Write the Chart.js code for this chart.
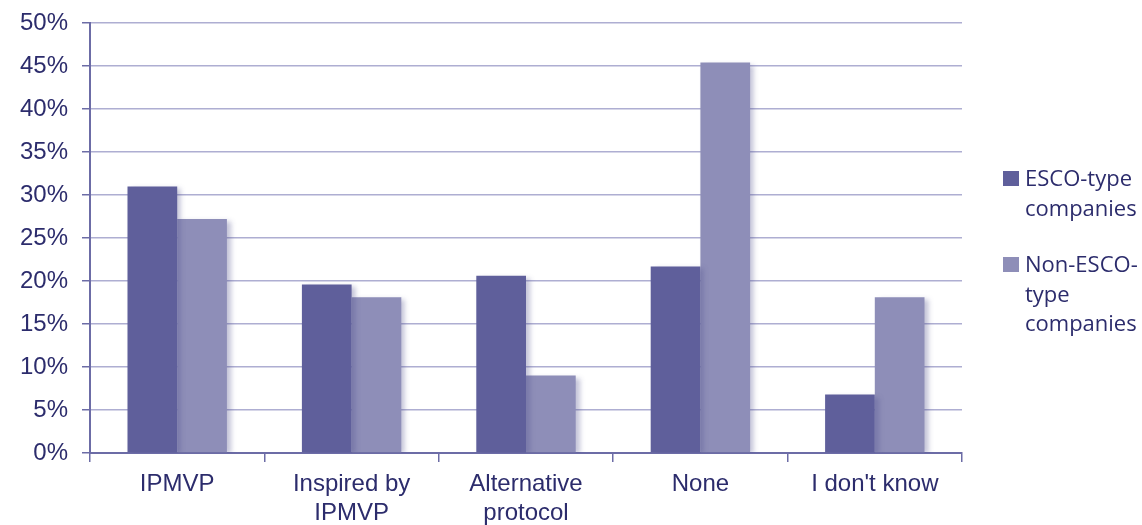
<!DOCTYPE html>
<html>
<head>
<meta charset="utf-8">
<script src="https://cdn.jsdelivr.net/npm/chart.js@4"></script>
<style>
html,body{margin:0;padding:0;background:#fff;}
#wrap{position:relative;width:1142px;height:525px;}
</style>
</head>
<body>
<div id="wrap"><canvas id="c" width="1142" height="525"></canvas></div>
<script>
const categories = ['IPMVP', ['Inspired by', 'IPMVP'], ['Alternative', 'protocol'], 'None', "I don't know"];
const escoLabel = ['ESCO-type', 'companies'];
const nonEscoLabel = ['Non-ESCO-', 'type', 'companies'];
const escoValues = [31.0, 19.6, 20.6, 21.7, 6.8];
const nonEscoValues = [27.2, 18.1, 9.0, 45.4, 18.1];
const yTicks = [0, 5, 10, 15, 20, 25, 30, 35, 40, 45, 50];

const DARK = '#5f5f9b';
const LIGHT = '#8e8eb8';
const TEXT = '#2c2c6c';
const GRID = '#aeaed2';
const AXIS = '#6c6ca6';
const AXIS_FONT = '"Liberation Sans", Arial, sans-serif';
const LEGEND_FONT = '"Open Sans", sans-serif';

const shadowPlugin = {
  id: 'barShadow',
  beforeDatasetsDraw(chart) {
    const ctx = chart.ctx;
    ctx.save();
    ctx.shadowColor = 'rgba(80,80,140,0.35)';
    ctx.shadowOffsetX = 4;
    ctx.shadowOffsetY = 2;
    ctx.shadowBlur = 5;
  },
  afterDatasetsDraw(chart) {
    chart.ctx.restore();
  }
};

const legendPlugin = {
  id: 'sideLegend',
  afterDraw(chart) {
    const ctx = chart.ctx;
    ctx.save();
    ctx.font = '22px ' + LEGEND_FONT;
    ctx.textBaseline = 'alphabetic';
    ctx.textAlign = 'left';
    const items = chart.data.datasets;
    const starts = [186, 272];
    items.forEach((ds, i) => {
      const base = starts[i];
      ctx.fillStyle = ds.backgroundColor;
      ctx.fillRect(1003, base - 15, 16, 15);
      ctx.fillStyle = TEXT;
      ds.label.forEach((line, j) => {
        ctx.fillText(line, 1025, base + j * 29.5);
      });
    });
    ctx.restore();
  }
};

function build() {
  new Chart(document.getElementById('c'), {
    type: 'bar',
    data: {
      labels: categories,
      datasets: [
        { label: escoLabel, data: escoValues, backgroundColor: DARK, borderWidth: 0 },
        { label: nonEscoLabel, data: nonEscoValues, backgroundColor: LIGHT, borderWidth: 0 }
      ]
    },
    options: {
      responsive: false,
      animation: false,
      devicePixelRatio: 1,
      layout: { padding: { top: 23, right: 180, left: 0, bottom: 0 } },
      plugins: { legend: { display: false }, tooltip: { enabled: false }, title: { display: false } },
      datasets: { bar: { categoryPercentage: 0.57, barPercentage: 1.0 } },
      scales: {
        x: {
          grid: { drawOnChartArea: false, drawTicks: true, tickLength: 9, color: AXIS, lineWidth: 1.5, offset: true },
          border: { display: true, color: AXIS, width: 2 },
          ticks: { color: TEXT, font: { family: AXIS_FONT, size: 24, lineHeight: 1.2 }, padding: 8, maxRotation: 0, autoSkip: false },
          afterFit(scale) { scale.height = 72; scale.paddingLeft = 0; scale.paddingRight = 0; }
        },
        y: {
          min: 0, max: 50,
          afterBuildTicks(scale) { scale.ticks = yTicks.map(v => ({ value: v })); },
          grid: { color: GRID, lineWidth: 1.5, tickLength: 8, tickColor: AXIS },
          border: { display: true, color: AXIS, width: 2 },
          ticks: { color: TEXT, font: { family: AXIS_FONT, size: 24 }, padding: 14, callback: v => v + '%' },
          afterFit(scale) { scale.width = 90; scale.paddingTop = 0; scale.paddingBottom = 0; }
        }
      }
    },
    plugins: [shadowPlugin, legendPlugin]
  });
}

Promise.all([
  document.fonts.load('24px "Liberation Sans"'),
  document.fonts.load('22px "Open Sans"')
]).then(build, build);
</script>
</body>
</html>
